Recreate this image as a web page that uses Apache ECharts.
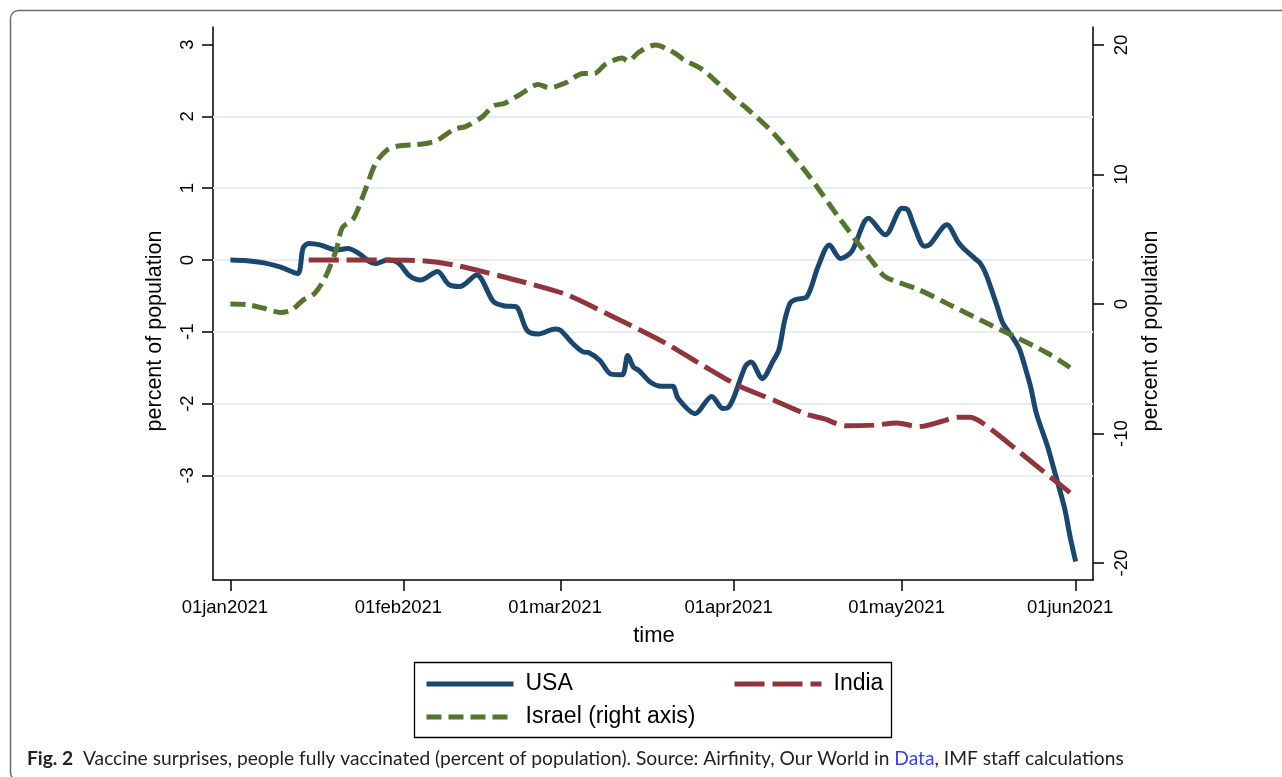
<!DOCTYPE html>
<html>
<head>
<meta charset="utf-8">
<script src="https://cdn.jsdelivr.net/npm/echarts@6/dist/echarts.min.js"></script>
<style>
  html, body { margin: 0; padding: 0; background: #ffffff; }
  #chart { width: 1282px; height: 777px; }
</style>
</head>
<body>
<div id="chart"></div>
<script>
// Horizontal positions are days counted from 01jan2021.
const tickDays = [0, 31, 59, 90, 120, 151];
const tickLabels = ['01jan2021', '01feb2021', '01mar2021', '01apr2021', '01may2021', '01jun2021'];
const leftTicks = [-3, -2, -1, 0, 1, 2, 3];
const rightTicks = [-20, -10, 0, 10, 20];
const gridValues = [-3, -2, -1, 0, 1, 2];

// USA, percent of population (left axis)
const usaDays = [0, 3, 6, 9, 12, 13, 14, 16, 19, 21, 23, 25, 26, 28, 30, 32, 34, 37, 39, 41, 44, 47, 49, 51, 53, 55, 58, 59, 61, 63, 64, 66, 68, 70, 71, 72, 73, 75, 77, 79, 80, 83, 86, 88, 89, 90, 92, 93, 95, 97, 98, 99, 100, 101, 103, 105, 107, 109, 111, 114, 117, 120, 121, 122, 124, 125, 128, 130, 131, 133, 134, 135, 137, 138, 140, 141, 142, 143, 144, 146, 147, 149, 150, 151];
const usaValues = [0, -0.01, -0.04, -0.10, -0.19, 0.17, 0.23, 0.21, 0.14, 0.16, 0.09, -0.03, -0.05, 0.0, -0.04, -0.22, -0.28, -0.16, -0.34, -0.37, -0.21, -0.58, -0.64, -0.65, -0.98, -1.03, -0.96, -0.98, -1.15, -1.28, -1.29, -1.40, -1.59, -1.60, -1.33, -1.49, -1.54, -1.70, -1.76, -1.76, -1.93, -2.14, -1.90, -2.07, -2.05, -1.90, -1.48, -1.42, -1.65, -1.40, -1.25, -0.85, -0.60, -0.55, -0.51, -0.09, 0.21, 0.02, 0.12, 0.58, 0.35, 0.72, 0.70, 0.50, 0.19, 0.22, 0.49, 0.25, 0.16, 0.02, -0.05, -0.20, -0.65, -0.88, -1.11, -1.25, -1.50, -1.78, -2.14, -2.60, -2.88, -3.45, -3.85, -4.20];

// India, percent of population (left axis)
const indiaDays = [14, 20, 28, 34, 40, 46, 53, 60, 66, 72, 78, 84, 91, 97, 103, 106, 110, 115, 119, 123, 127, 130, 132, 134, 139, 145, 150];
const indiaValues = [0, 0, 0, -0.01, -0.07, -0.18, -0.32, -0.48, -0.70, -0.93, -1.17, -1.45, -1.76, -1.95, -2.15, -2.21, -2.31, -2.30, -2.27, -2.32, -2.25, -2.19, -2.19, -2.25, -2.55, -2.93, -3.24];

// Israel, percent of population (right axis)
const israelDays = [0, 3, 6, 9, 10, 11, 13, 15, 17, 19, 20, 22, 24, 26, 28, 30, 33, 35, 37, 40, 42, 45, 47, 49, 52, 55, 57, 60, 63, 65, 67, 70, 71, 73, 76, 78, 80, 81, 84, 87, 90, 92, 97, 103, 109, 115, 117, 123, 128, 134, 140, 146, 150];
const israelValues = [0, -0.05, -0.33, -0.65, -0.60, -0.46, 0.30, 0.80, 2.10, 4.30, 5.90, 6.60, 8.70, 10.90, 11.90, 12.20, 12.30, 12.40, 12.65, 13.50, 13.70, 14.45, 15.30, 15.50, 16.25, 16.95, 16.70, 17.10, 17.80, 17.80, 18.50, 19.00, 18.75, 19.45, 20.00, 19.70, 19.20, 18.85, 18.20, 17.10, 15.90, 15.20, 13.20, 10.10, 6.50, 3.10, 2.10, 1.10, 0.05, -1.24, -2.50, -3.80, -4.90];

const pairs = (xs, ys) => xs.map((x, i) => [x, ys[i]]);
const FONT = 'Liberation Sans, Arial, sans-serif';
const CAPTION_FONT = 'Lato, Open Sans, sans-serif';

const chart = echarts.init(document.getElementById('chart'), null, { renderer: 'canvas' });

const axisLineStyle = { color: '#000000', width: 1.5 };
const tickFont = { fontSize: 18.5, color: '#000000', fontFamily: FONT };

const legendBase = {
  orient: 'vertical',
  top: 672,
  padding: 0,
  itemWidth: 87, itemHeight: 14, itemGap: 9,
  lineStyle: { width: 5 },
  itemStyle: { opacity: 0, borderWidth: 0 },
  textStyle: { fontSize: 23, lineHeight: 24, color: '#000000', fontFamily: FONT, padding: [0, 0, 0, 7] },
  selectedMode: false
};

const option = {
  animation: false,
  backgroundColor: '#ffffff',
  grid: { left: 213, right: 189, top: 27, bottom: 197, containLabel: false },
  xAxis: {
    type: 'value',
    min: -3.1,
    max: 154.1,
    axisLine: { show: true, onZero: false, lineStyle: axisLineStyle },
    axisTick: { show: true, customValues: tickDays, length: 11, lineStyle: axisLineStyle },
    axisLabel: Object.assign({
      customValues: tickDays,
      formatter: v => tickLabels[tickDays.indexOf(v)],
      margin: 18,
      padding: [0, 11, 0, 0]
    }, tickFont),
    splitLine: { show: false }
  },
  yAxis: [
    {
      type: 'value',
      position: 'left',
      min: -4.457,
      max: 3.245,
      axisLine: { show: true, onZero: false, lineStyle: axisLineStyle },
      axisTick: { show: true, customValues: leftTicks, length: 11, lineStyle: axisLineStyle },
      axisLabel: Object.assign({ customValues: leftTicks, rotate: 90, margin: 15.5 }, tickFont),
      splitLine: { show: false }
    },
    {
      type: 'value',
      position: 'right',
      min: -21.31,
      max: 21.39,
      axisLine: { show: true, onZero: false, lineStyle: axisLineStyle },
      axisTick: { show: true, customValues: rightTicks, length: 11, lineStyle: axisLineStyle },
      axisLabel: Object.assign({ customValues: rightTicks, rotate: 90, margin: 19.5 }, tickFont),
      splitLine: { show: false }
    }
  ],
  legend: [
    Object.assign({ data: ['USA', 'Israel (right axis)'], left: 424 }, legendBase),
    Object.assign({ data: ['India'], left: 732 }, legendBase)
  ],
  series: [
    {
      name: 'USA',
      type: 'line',
      yAxisIndex: 0,
      data: pairs(usaDays, usaValues),
      symbol: 'none',
      smooth: 0.3,
      lineStyle: { color: '#1a476f', width: 5 },
      itemStyle: { color: '#1a476f' },
      markLine: {
        silent: true,
        z: 1,
        symbol: ['none', 'none'],
        label: { show: false },
        lineStyle: { color: '#e6eef1', width: 2, type: 'solid' },
        data: gridValues.map(v => ({ yAxis: v }))
      }
    },
    {
      name: 'India',
      type: 'line',
      yAxisIndex: 0,
      data: pairs(indiaDays, indiaValues),
      symbol: 'none',
      smooth: 0.3,
      lineStyle: { color: '#90353b', width: 5, type: [30, 8], cap: 'butt' },
      itemStyle: { color: '#90353b' }
    },
    {
      name: 'Israel (right axis)',
      type: 'line',
      yAxisIndex: 1,
      data: pairs(israelDays, israelValues),
      symbol: 'none',
      smooth: 0.3,
      lineStyle: { color: '#55752f', width: 5, type: [15, 7], cap: 'butt' },
      itemStyle: { color: '#55752f' }
    }
  ],
  graphic: [
    {
      type: 'rect', silent: true, z: 0,
      shape: { x: 10.5, y: 10.5, width: 1320, height: 770, r: 8 },
      style: { fill: 'none', stroke: '#6e6e6e', lineWidth: 1.5 }
    },
    {
      type: 'text', silent: true,
      x: 155, y: 331, rotation: Math.PI / 2,
      style: { text: 'percent of population', fontSize: 21.5, fontFamily: FONT, fill: '#000000', align: 'center', verticalAlign: 'middle' }
    },
    {
      type: 'text', silent: true,
      x: 1151, y: 331, rotation: Math.PI / 2,
      style: { text: 'percent of population', fontSize: 21.5, fontFamily: FONT, fill: '#000000', align: 'center', verticalAlign: 'middle' }
    },
    {
      type: 'text', silent: true,
      x: 654, y: 636,
      style: { text: 'time', fontSize: 22, fontFamily: FONT, fill: '#000000', align: 'center', verticalAlign: 'middle' }
    },
    {
      type: 'rect', silent: true,
      shape: { x: 414.5, y: 662.5, width: 477, height: 75 },
      style: { fill: 'none', stroke: '#000000', lineWidth: 1.3 }
    },
    {
      type: 'text', silent: true,
      x: 27, y: 759,
      style: {
        text: '{b|Fig. 2}  Vaccine surprises, people fully vaccinated (percent of population). Source: Airfinity, Our World in {l|Data}, IMF staff calculations',
        fontSize: 19.2, fontFamily: CAPTION_FONT, fill: '#222222', verticalAlign: 'middle',
        rich: {
          b: { fontWeight: 'bold', fontSize: 19.2, fontFamily: CAPTION_FONT, fill: '#222222' },
          l: { fontSize: 19.2, fontFamily: CAPTION_FONT, fill: '#3340ff' }
        }
      }
    }
  ]
};

chart.setOption(option);
</script>
</body>
</html>
